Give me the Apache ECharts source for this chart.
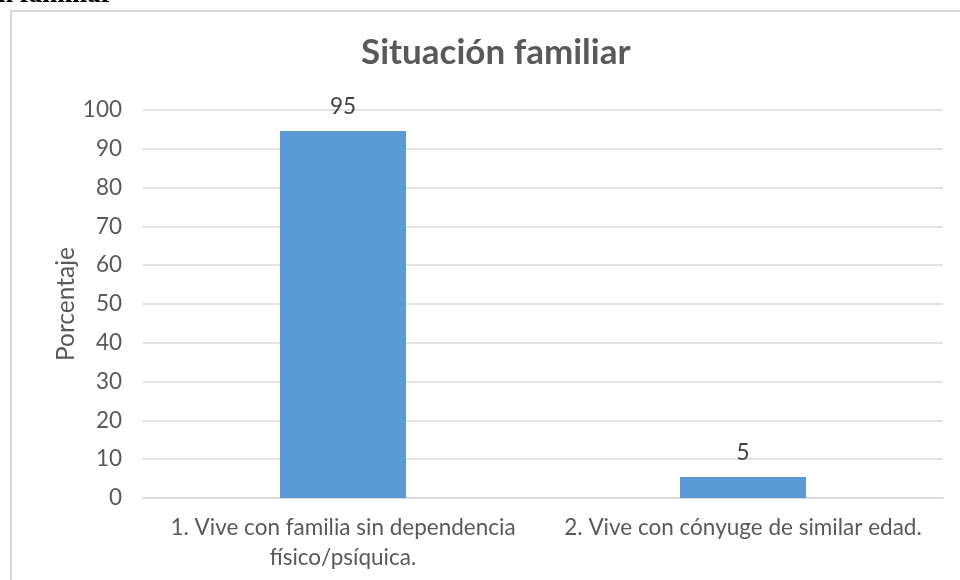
<!DOCTYPE html>
<html>
<head>
<meta charset="utf-8">
<script src="https://cdn.jsdelivr.net/npm/echarts@6/dist/echarts.min.js"></script>
<style>
  html, body { margin: 0; padding: 0; background: #fff; }
  #chart { width: 960px; height: 580px; }
</style>
</head>
<body>
<div id="chart"></div>
<script>
const categories = [
  '1. Vive con familia sin dependencia\nfísico/psíquica.',
  '2. Vive con cónyuge de similar edad.'
]
const porcentajes = [94.6, 5.4]
const yTicks = { min: 0, max: 100, interval: 10 }

const chart = echarts.init(document.getElementById('chart'))

chart.setOption({
  animation: false,
  textStyle: { fontFamily: 'Lato' },
  title: {
    text: 'Situación familiar',
    left: 356,
    top: 30,
    textStyle: { color: '#595959', fontSize: 35, fontWeight: 'bold', fontFamily: 'Lato' }
  },
  graphic: [
    {
      type: 'rect',
      shape: { x: 11, y: 11, width: 1200, height: 1200 },
      style: { fill: 'none', stroke: '#d9d9d9', lineWidth: 2 },
      silent: true
    },
    {
      type: 'text',
      style: {
        text: 'n familiar',
        x: -2,
        y: 9,
        verticalAlign: 'bottom',
        font: 'bold 27px "Liberation Serif"',
        fill: '#000'
      }
    }
  ],
  grid: { left: 143, right: 17, top: 110, bottom: 82 },
  xAxis: {
    type: 'category',
    data: categories,
    axisLine: { lineStyle: { color: '#d9d9d9', width: 1.5 } },
    axisTick: { show: false },
    axisLabel: { color: '#595959', fontSize: 22.5, lineHeight: 30, margin: 15, interval: 0 }
  },
  yAxis: {
    type: 'value',
    min: yTicks.min,
    max: yTicks.max,
    interval: yTicks.interval,
    name: 'Porcentaje',
    nameLocation: 'middle',
    nameGap: 64,
    nameMoveOverlap: false,
    nameTextStyle: { color: '#595959', fontSize: 24.5 },
    axisLine: { show: false },
    axisTick: { show: false },
    axisLabel: { color: '#595959', fontSize: 22.5, margin: 21 },
    splitLine: { lineStyle: { color: '#d9d9d9', width: 1.5 } }
  },
  series: [
    {
      type: 'bar',
      data: porcentajes,
      barWidth: '31.5%',
      itemStyle: { color: '#5b9bd5' },
      label: {
        show: true,
        position: 'top',
        distance: 13,
        color: '#404040',
        fontSize: 22.5,
        formatter: p => Math.round(p.value)
      }
    }
  ]
})
</script>
</body>
</html>
